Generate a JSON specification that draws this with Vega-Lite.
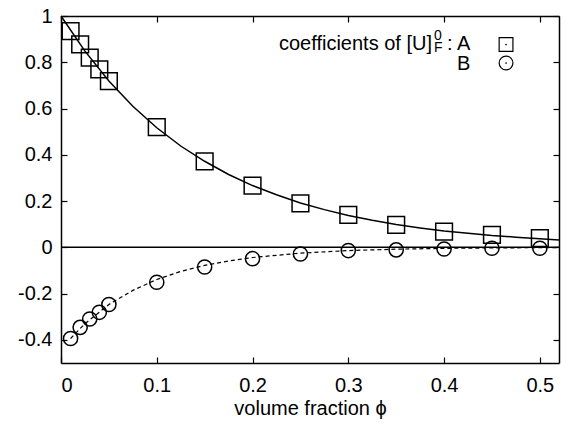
{
  "$schema": "https://vega.github.io/schema/vega-lite/v6.json",
  "width": 498,
  "height": 347,
  "autosize": {"type": "none"},
  "padding": {"left": 61, "top": 16, "right": 12, "bottom": 62},
  "background": "white",
  "config": {
    "view": {"stroke": null},
    "font": "Liberation Sans",
    "axis": {
      "labelFont": "Liberation Sans",
      "titleFont": "Liberation Sans",
      "labelFontSize": 20,
      "titleFontSize": 20,
      "titleFontWeight": "normal",
      "labelColor": "black",
      "titleColor": "black",
      "domainColor": "black",
      "domainWidth": 1.5,
      "tickColor": "black",
      "tickWidth": 1.2,
      "tickSize": -6,
      "grid": false
    }
  },
  "datasets": {
    "pointsA": [
      {"phi": 0.01, "A": 0.935}, {"phi": 0.02, "A": 0.877}, {"phi": 0.03, "A": 0.82},
      {"phi": 0.04, "A": 0.769}, {"phi": 0.05, "A": 0.718}, {"phi": 0.1, "A": 0.52},
      {"phi": 0.15, "A": 0.372}, {"phi": 0.2, "A": 0.267}, {"phi": 0.25, "A": 0.19},
      {"phi": 0.3, "A": 0.14}, {"phi": 0.35, "A": 0.097}, {"phi": 0.4, "A": 0.068},
      {"phi": 0.45, "A": 0.054}, {"phi": 0.5, "A": 0.04}
    ],
    "pointsB": [
      {"phi": 0.01, "B": -0.394}, {"phi": 0.02, "B": -0.346}, {"phi": 0.03, "B": -0.31},
      {"phi": 0.04, "B": -0.281}, {"phi": 0.05, "B": -0.247}, {"phi": 0.1, "B": -0.151},
      {"phi": 0.15, "B": -0.085}, {"phi": 0.2, "B": -0.049}, {"phi": 0.25, "B": -0.029},
      {"phi": 0.3, "B": -0.014}, {"phi": 0.35, "B": -0.011}, {"phi": 0.4, "B": -0.007},
      {"phi": 0.45, "B": -0.004}, {"phi": 0.5, "B": -0.004}
    ],
    "curveA": [
      {"phi": 0, "A": 1}, {"phi": 0.025, "A": 0.848}, {"phi": 0.05, "A": 0.719},
      {"phi": 0.075, "A": 0.61}, {"phi": 0.1, "A": 0.517}, {"phi": 0.125, "A": 0.438},
      {"phi": 0.15, "A": 0.372}, {"phi": 0.175, "A": 0.315}, {"phi": 0.2, "A": 0.267},
      {"phi": 0.225, "A": 0.227}, {"phi": 0.25, "A": 0.192}, {"phi": 0.275, "A": 0.163},
      {"phi": 0.3, "A": 0.138}, {"phi": 0.325, "A": 0.117}, {"phi": 0.35, "A": 0.099},
      {"phi": 0.375, "A": 0.084}, {"phi": 0.4, "A": 0.071}, {"phi": 0.425, "A": 0.061},
      {"phi": 0.45, "A": 0.051}, {"phi": 0.475, "A": 0.044}, {"phi": 0.5, "A": 0.037},
      {"phi": 0.52, "A": 0.032}
    ],
    "curveB": [
      {"phi": 0.01, "B": -0.394}, {"phi": 0.025, "B": -0.33}, {"phi": 0.05, "B": -0.247},
      {"phi": 0.075, "B": -0.186}, {"phi": 0.1, "B": -0.139}, {"phi": 0.125, "B": -0.104},
      {"phi": 0.15, "B": -0.078}, {"phi": 0.175, "B": -0.059}, {"phi": 0.2, "B": -0.044},
      {"phi": 0.25, "B": -0.025}, {"phi": 0.3, "B": -0.014}, {"phi": 0.35, "B": -0.008},
      {"phi": 0.4, "B": -0.0044}, {"phi": 0.45, "B": -0.0025}, {"phi": 0.5, "B": -0.0014},
      {"phi": 0.52, "B": -0.0011}
    ]
  },
  "resolve": {"axis": {"x": "independent", "y": "independent"}},
  "layer": [
    {
      "data": {"name": "curveA"},
      "mark": {"type": "line", "color": "black", "strokeWidth": 1.5},
      "encoding": {
        "x": {"field": "phi", "type": "quantitative",
              "scale": {"domain": [0, 0.52], "nice": false, "zero": false},
              "axis": {"orient": "bottom", "values": [0, 0.1, 0.2, 0.3, 0.4, 0.5], "format": "~g",
                       "labelExpr": "replace(datum.label, '−', '-')",
                       "labelPadding": 18, "title": "volume fraction ϕ", "titlePadding": 3}},
        "y": {"field": "A", "type": "quantitative",
              "scale": {"domain": [-0.5, 1], "nice": false, "zero": false},
              "axis": {"orient": "left", "values": [-0.4, -0.2, 0, 0.2, 0.4, 0.6, 0.8, 1], "format": "~g",
                       "labelExpr": "replace(datum.label, '−', '-')",
                       "labelPadding": 15, "title": null}}
      }
    },
    {
      "data": {"name": "pointsA"},
      "mark": {"type": "point", "shape": "square", "filled": false, "color": "black", "size": 0, "opacity": 0},
      "encoding": {
        "x": {"field": "phi", "type": "quantitative",
              "axis": {"orient": "top", "values": [0, 0.1, 0.2, 0.3, 0.4, 0.5], "labels": false, "title": null}},
        "y": {"field": "A", "type": "quantitative",
              "axis": {"orient": "right", "values": [-0.4, -0.2, 0, 0.2, 0.4, 0.6, 0.8, 1], "labels": false, "title": null}}
      }
    },
    {
      "data": {"values": [{"v": 0}]},
      "mark": {"type": "rule", "color": "black", "strokeWidth": 1.5},
      "encoding": {"y": {"field": "v", "type": "quantitative", "axis": null}}
    },
    {
      "data": {"name": "curveB"},
      "mark": {"type": "line", "color": "black", "strokeWidth": 1.2, "strokeDash": [4, 3]},
      "encoding": {
        "x": {"field": "phi", "type": "quantitative", "axis": null},
        "y": {"field": "B", "type": "quantitative", "axis": null}
      }
    },
    {
      "data": {"name": "pointsA"},
      "mark": {"type": "point", "shape": "square", "filled": false, "color": "black", "size": 280, "strokeWidth": 1.5, "opacity": 1},
      "encoding": {
        "x": {"field": "phi", "type": "quantitative", "axis": null},
        "y": {"field": "A", "type": "quantitative", "axis": null}
      }
    },
    {
      "data": {"name": "pointsB"},
      "mark": {"type": "point", "shape": "circle", "filled": false, "color": "black", "size": 200, "strokeWidth": 1.5, "opacity": 1},
      "encoding": {
        "x": {"field": "phi", "type": "quantitative", "axis": null},
        "y": {"field": "B", "type": "quantitative", "axis": null}
      }
    },
    {
      "data": {"values": [{"label": "coefficients of [U]"}]},
      "mark": {"type": "text", "align": "right", "baseline": "alphabetic", "fontSize": 20, "color": "black"},
      "encoding": {
        "x": {"datum": 0.3874, "type": "quantitative", "axis": null},
        "y": {"datum": 0.853, "type": "quantitative", "axis": null},
        "text": {"field": "label"}
      }
    },
    {
      "data": {"values": [{"label": "0"}]},
      "mark": {"type": "text", "align": "left", "baseline": "alphabetic", "fontSize": 14, "color": "black"},
      "encoding": {
        "x": {"datum": 0.3895, "type": "quantitative", "axis": null},
        "y": {"datum": 0.8962, "type": "quantitative", "axis": null},
        "text": {"field": "label"}
      }
    },
    {
      "data": {"values": [{"label": "F"}]},
      "mark": {"type": "text", "align": "left", "baseline": "alphabetic", "fontSize": 14, "color": "black"},
      "encoding": {
        "x": {"datum": 0.3895, "type": "quantitative", "axis": null},
        "y": {"datum": 0.846, "type": "quantitative", "axis": null},
        "text": {"field": "label"}
      }
    },
    {
      "data": {"values": [{"label": ": A"}]},
      "mark": {"type": "text", "align": "left", "baseline": "alphabetic", "fontSize": 20, "color": "black"},
      "encoding": {
        "x": {"datum": 0.4031, "type": "quantitative", "axis": null},
        "y": {"datum": 0.853, "type": "quantitative", "axis": null},
        "text": {"field": "label"}
      }
    },
    {
      "data": {"values": [{"label": "B"}]},
      "mark": {"type": "text", "align": "right", "baseline": "alphabetic", "fontSize": 20, "color": "black"},
      "encoding": {
        "x": {"datum": 0.4275, "type": "quantitative", "axis": null},
        "y": {"datum": 0.768, "type": "quantitative", "axis": null},
        "text": {"field": "label"}
      }
    },
    {
      "data": {"values": [{"series": "A", "lx": 0.4647, "ly": 0.8768}, {"series": "B", "lx": 0.4647, "ly": 0.7968}]},
      "mark": {"type": "point", "filled": false, "color": "black", "size": 190, "strokeWidth": 1.2, "opacity": 1},
      "encoding": {
        "x": {"field": "lx", "type": "quantitative", "axis": null},
        "y": {"field": "ly", "type": "quantitative", "axis": null},
        "shape": {"field": "series", "type": "nominal", "scale": {"domain": ["A", "B"], "range": ["square", "circle"]}, "legend": null}
      }
    },
    {
      "data": {"values": [{"series": "A", "lx": 0.4647, "ly": 0.8768}, {"series": "B", "lx": 0.4647, "ly": 0.7968}]},
      "mark": {"type": "point", "shape": "circle", "filled": true, "color": "black", "size": 3, "opacity": 1},
      "encoding": {
        "x": {"field": "lx", "type": "quantitative", "axis": null},
        "y": {"field": "ly", "type": "quantitative", "axis": null}
      }
    }
  ]
}
